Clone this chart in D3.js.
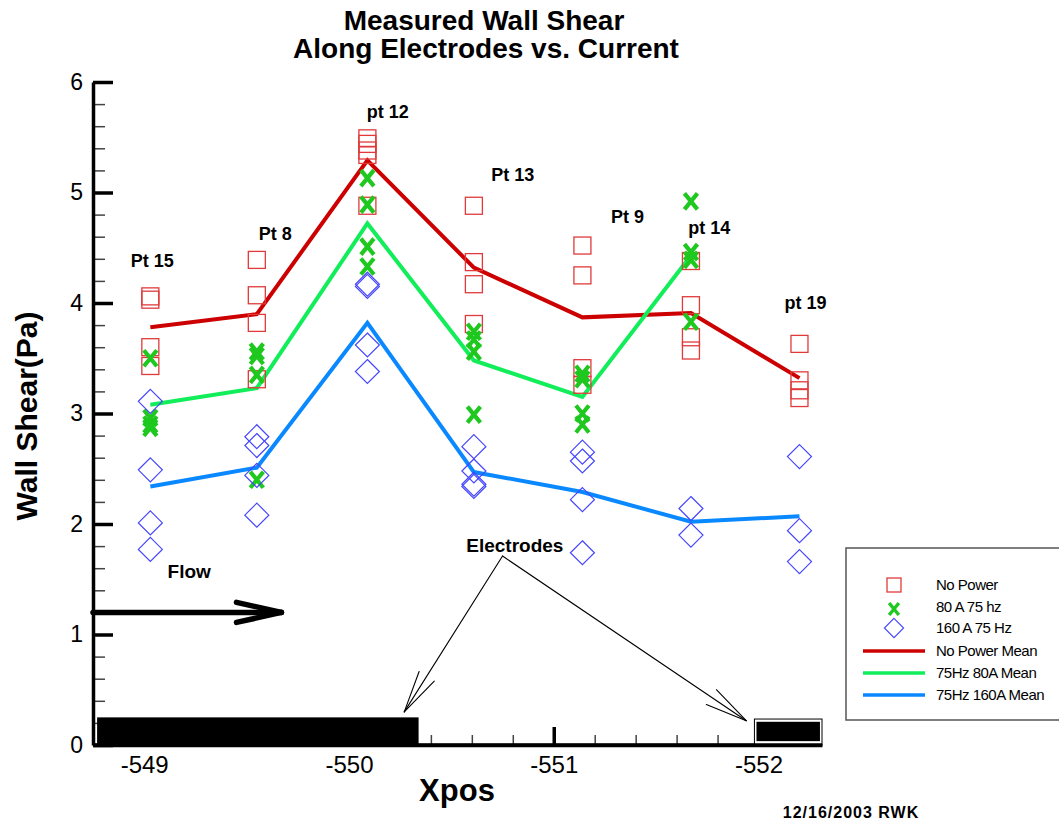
<!DOCTYPE html>
<html>
<head>
<meta charset="utf-8">
<script src="https://cdn.jsdelivr.net/npm/d3@7"></script>
<style>
  body { margin: 0; background: #fff; }
  svg { display: block; font-family: Arial, "Liberation Sans", sans-serif; }
</style>
</head>
<body>
<svg id="chart"></svg>
<script>
// stations along the electrodes (Xpos) and their labels
const xpos = [-549.03, -549.55, -550.09, -550.61, -551.14, -551.67, -552.20];
const ptNames = ["Pt 15", "Pt 8", "pt 12", "Pt 13", "Pt 9", "pt 14", "pt 19"];
// label anchor in data units [x, y]
const ptLabelAt = [[-549.04, 4.33], [-549.64, 4.57], [-550.19, 5.67], [-550.80, 5.10],
                   [-551.36, 4.72], [-551.76, 4.62], [-552.23, 3.95]];

// measured wall shear (Pa) at each station
const noPower = [[4.06, 4.03, 3.60, 3.43], [4.39, 4.07, 3.82, 3.31], [5.49, 5.44, 5.38, 5.34, 4.88],
                 [4.88, 4.37, 4.17, 3.81], [4.52, 4.25, 3.41, 3.26], [4.38, 3.98, 3.69, 3.57],
                 [3.63, 3.30, 3.21, 3.14]];
const amp80 = [[3.50, 2.96, 2.90, 2.87], [3.56, 3.52, 3.35, 2.40], [5.13, 4.89, 4.51, 4.33],
               [3.74, 3.67, 3.56, 2.99], [3.36, 3.31, 3.00, 2.90], [4.92, 4.46, 4.39, 3.83], []];
const amp160 = [[3.11, 2.49, 2.01, 1.77], [2.79, 2.71, 2.44, 2.08], [4.17, 4.15, 3.62, 3.38],
                [2.70, 2.48, 2.36, 2.34], [2.65, 2.57, 2.22, 1.74], [2.14, 1.90], [2.61, 1.94, 1.66]];

// means
const meanNoPower = [3.78, 3.90, 5.29, 4.32, 3.87, 3.91, 3.32];
const mean80 = [3.08, 3.23, 4.72, 3.48, 3.15, 4.43];
const mean160 = [2.34, 2.51, 3.82, 2.47, 2.29, 2.02, 2.07];

const yMajor = [0, 1, 2, 3, 4, 5, 6];
const xMajor = [-549, -550, -551, -552];

// electrode blocks [x0, x1, y0, y1]
const electrodes = [[-548.77, -550.34, 0, 0.25]];
const electrodeFrame = [-551.98, -552.31, 0, 0.235];
const electrodeFill = [-551.99, -552.30, 0.035, 0.21];

const W = 1059, H = 822;
const svg = d3.select("#chart").attr("width", W).attr("height", H);
svg.append("rect").attr("width", W).attr("height", H).attr("fill", "#fff");

const x = d3.scaleLinear().domain([-548.75, -552.31]).range([93, 822]);
const y = d3.scaleLinear().domain([0, 6]).range([745, 82]);

//标题
const title = svg.append("text").attr("text-anchor", "middle").attr("font-weight", "bold")
  .attr("font-size", 28);
title.append("tspan").attr("x", 484).attr("y", 30).text("Measured Wall Shear");
title.append("tspan").attr("x", 486).attr("y", 58).text("Along Electrodes vs. Current");

// axes
const minorY = d3.range(0, 6.001, 0.2).filter(v => Math.abs(v - Math.round(v)) > 0.01);
const minorX = d3.range(-548.8, -552.31, -0.2).filter(v => Math.abs(v - Math.round(v)) > 0.01);

const gy = svg.append("g").attr("transform", "translate(93,0)");
gy.append("g").call(d3.axisLeft(y).tickValues(minorY).tickSize(-12).tickSizeOuter(0).tickFormat(""))
  .call(g => g.select(".domain").remove())
  .call(g => g.selectAll("line").attr("stroke", "#444").attr("stroke-width", 1.5));
gy.append("g").call(d3.axisLeft(y).tickValues(yMajor).tickSize(-20).tickSizeOuter(0).tickPadding(10)
    .tickFormat(d => String(d)))
  .call(g => g.select(".domain").attr("stroke-width", 3.5))
  .call(g => g.selectAll("line").attr("stroke-width", 3.5))
  .call(g => g.selectAll("text").attr("font-size", 23).attr("font-family", "Arial, 'Liberation Sans'").attr("fill", "#000"));

const gx = svg.append("g").attr("transform", "translate(0,745)");
gx.append("g").call(d3.axisBottom(x).tickValues(minorX).tickSize(-10).tickSizeOuter(0).tickFormat(""))
  .call(g => g.select(".domain").remove())
  .call(g => g.selectAll("line").attr("stroke", "#444").attr("stroke-width", 1.5));
gx.append("g").call(d3.axisBottom(x).tickValues(xMajor).tickSize(-18).tickSizeOuter(0).tickPadding(11)
    .tickFormat(d => String(d)))
  .call(g => g.select(".domain").attr("stroke-width", 3.5))
  .call(g => g.selectAll("line").attr("stroke-width", 3.5))
  .call(g => g.selectAll("text").attr("font-size", 24).attr("font-family", "Arial, 'Liberation Sans'").attr("fill", "#000"));

svg.append("text").attr("x", 457).attr("y", 801).attr("text-anchor", "middle")
  .attr("font-weight", "bold").attr("font-size", 31).text("Xpos");
svg.append("text").attr("transform", "translate(37,416) rotate(-90)").attr("text-anchor", "middle")
  .attr("font-weight", "bold").attr("font-size", 30).text("Wall Shear(Pa)");

// electrodes
svg.selectAll(".elec").data(electrodes).join("rect").attr("class", "elec")
  .attr("x", d => x(d[0])).attr("width", d => x(d[1]) - x(d[0]))
  .attr("y", d => y(d[3])).attr("height", d => y(d[2]) - y(d[3])).attr("fill", "#000");
svg.append("rect").attr("x", x(electrodeFrame[0])).attr("width", x(electrodeFrame[1]) - x(electrodeFrame[0]))
  .attr("y", y(electrodeFrame[3])).attr("height", y(electrodeFrame[2]) - y(electrodeFrame[3]))
  .attr("fill", "#fff").attr("stroke", "#000").attr("stroke-width", 1);
svg.append("rect").attr("x", x(electrodeFill[0])).attr("width", x(electrodeFill[1]) - x(electrodeFill[0]))
  .attr("y", y(electrodeFill[3])).attr("height", y(electrodeFill[2]) - y(electrodeFill[3]))
  .attr("fill", "#000");
// redraw axis line over the blocks
svg.append("line").attr("x1", 93).attr("x2", 822).attr("y1", 745).attr("y2", 745)
  .attr("stroke", "#000").attr("stroke-width", 3.5);

// arrow helper (open head)
function arrow(g, x1, y1, x2, y2, len, ang, sw) {
  g.append("line").attr("x1", x1).attr("y1", y1).attr("x2", x2).attr("y2", y2);
  const a = Math.atan2(y1 - y2, x1 - x2);
  [-ang, ang].forEach(da => {
    g.append("line").attr("x1", x2).attr("y1", y2)
      .attr("x2", x2 + len * Math.cos(a + da)).attr("y2", y2 + len * Math.sin(a + da));
  });
  g.selectAll("line").attr("stroke", "#000").attr("stroke-width", sw).attr("stroke-linecap", "round");
}

// Flow arrow
svg.append("text").attr("x", x(-549.22)).attr("y", y(1.51)).attr("text-anchor", "middle")
  .attr("font-weight", "bold").attr("font-size", 19).text("Flow");
arrow(svg.append("g"), x(-548.75), y(1.2), x(-549.67), y(1.2), 46, 0.22, 5.5);

// Electrodes annotation
svg.append("text").attr("x", x(-550.81)).attr("y", y(1.75)).attr("text-anchor", "middle")
  .attr("font-weight", "bold").attr("font-size", 19).text("Electrodes");
arrow(svg.append("g"), x(-550.75), y(1.71), x(-550.27), y(0.30), 43, 0.21, 1.1);
arrow(svg.append("g"), x(-550.75), y(1.71), x(-551.94), y(0.22), 43, 0.21, 1.1);

// mean lines
const line = d3.line().x((d, i) => x(xpos[i])).y(d => y(d));
[[meanNoPower, "#cc0000"], [mean80, "#11ee5a"], [mean160, "#0a88ff"]].forEach(([s, c]) => {
  svg.append("path").datum(s).attr("d", line).attr("fill", "none")
    .attr("stroke", c).attr("stroke-width", 4).attr("stroke-linejoin", "miter");
});

// scatter markers
function flat(series) {
  const out = [];
  series.forEach((vals, i) => vals.forEach(v => out.push({ x: xpos[i], v })));
  return out;
}
const sq = 8.5;
svg.append("g").selectAll("rect").data(flat(noPower)).join("rect")
  .attr("x", d => x(d.x) - sq).attr("y", d => y(d.v) - sq).attr("width", 2 * sq).attr("height", 2 * sq)
  .attr("fill", "none").attr("stroke", "#e03a3a").attr("stroke-width", 1.3);
const crossPath = "M-6.5,-8L6.5,8M6.5,-8L-6.5,8";
svg.append("g").selectAll("path").data(flat(amp80)).join("path")
  .attr("transform", d => `translate(${x(d.x)},${y(d.v)})`).attr("d", crossPath)
  .attr("fill", "none").attr("stroke", "#1ec81e").attr("stroke-width", 4.2);
const diamondPath = "M0,-12L12,0L0,12L-12,0Z";
svg.append("g").selectAll("path").data(flat(amp160)).join("path")
  .attr("transform", d => `translate(${x(d.x)},${y(d.v)})`).attr("d", diamondPath)
  .attr("fill", "none").attr("stroke", "#4545ff").attr("stroke-width", 1.2);

// point labels
svg.append("g").selectAll("text").data(ptNames).join("text")
  .attr("x", (d, i) => x(ptLabelAt[i][0])).attr("y", (d, i) => y(ptLabelAt[i][1]))
  .attr("text-anchor", "middle").attr("font-weight", "bold").attr("font-size", 18).text(d => d);

// legend
const legendItems = [
  { label: "No Power", kind: "square", color: "#e03a3a" },
  { label: "80 A 75 hz", kind: "cross", color: "#1ec81e" },
  { label: "160 A 75 Hz", kind: "diamond", color: "#4545ff" },
  { label: "No Power Mean", kind: "line", color: "#cc0000" },
  { label: "75Hz 80A Mean", kind: "line", color: "#11ee5a" },
  { label: "75Hz 160A Mean", kind: "line", color: "#0a88ff" }
];
const rowY = [585, 607, 628, 651, 673, 695];
const lg = svg.append("g");
lg.append("rect").attr("x", 846).attr("y", 548).attr("width", 230).attr("height", 172)
  .attr("fill", "#fff").attr("stroke", "#555").attr("stroke-width", 1.5);
legendItems.forEach((d, i) => {
  const yy = rowY[i];
  if (d.kind === "square") {
    lg.append("rect").attr("x", 894 - 7).attr("y", yy - 7).attr("width", 14).attr("height", 14)
      .attr("fill", "none").attr("stroke", d.color).attr("stroke-width", 1.3);
  } else if (d.kind === "cross") {
    lg.append("path").attr("transform", `translate(894,${yy + 2}) scale(0.75)`).attr("d", crossPath)
      .attr("fill", "none").attr("stroke", d.color).attr("stroke-width", 4.5);
  } else if (d.kind === "diamond") {
    lg.append("path").attr("transform", `translate(894,${yy}) scale(0.8)`).attr("d", diamondPath)
      .attr("fill", "none").attr("stroke", d.color).attr("stroke-width", 1.4);
  } else {
    lg.append("line").attr("x1", 863).attr("x2", 925).attr("y1", yy).attr("y2", yy)
      .attr("stroke", d.color).attr("stroke-width", 3.5);
  }
  lg.append("text").attr("x", 936).attr("y", yy + 5).attr("font-size", 15)
    .attr("letter-spacing", -0.5).text(d.label);
});

// date stamp
svg.append("text").attr("x", 851).attr("y", 818).attr("text-anchor", "middle")
  .attr("font-weight", "bold").attr("font-size", 16).attr("letter-spacing", 1).text("12/16/2003 RWK");
</script>
</body>
</html>
